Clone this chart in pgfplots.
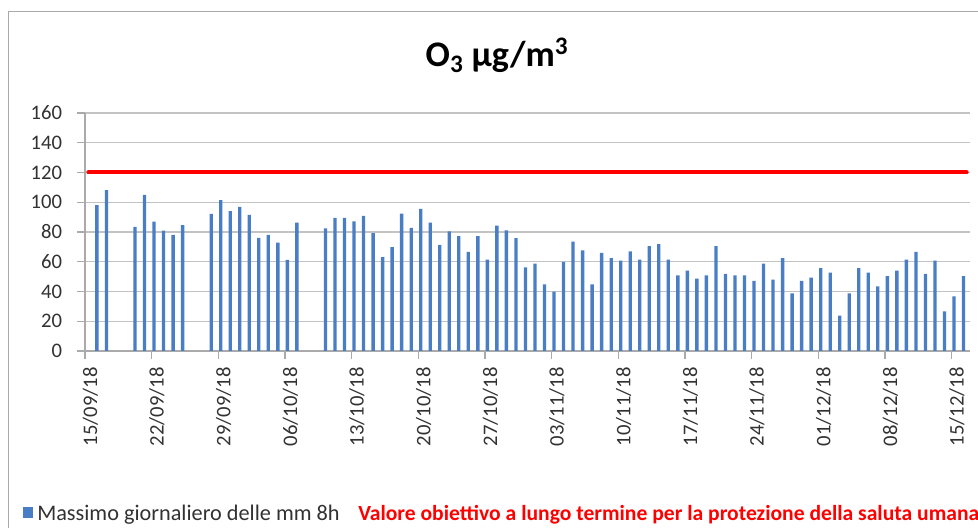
\documentclass[border=0pt]{standalone}
\usepackage{fontspec}
\setmainfont{Carlito}
\usepackage{pgfplots}
\pgfplotsset{compat=1.18}
\definecolor{barblue}{RGB}{74,126,196}
\definecolor{gridgray}{RGB}{195,195,195}
\definecolor{axisgray}{RGB}{170,170,170}
\definecolor{txt}{RGB}{50,50,50}

% O3 daily max of 8h moving mean, day index 0 = 15/09/18
\pgfplotstableread{
day val
1 98.0
2 108.2
5 83.4
6 105.0
7 87.0
8 80.9
9 78.0
10 84.7
13 92.2
14 101.4
15 94.0
16 96.9
17 91.5
18 76.0
19 78.0
20 72.8
21 61.3
22 86.3
25 82.5
26 89.5
27 89.5
28 87.2
29 90.8
30 79.3
31 63.1
32 69.9
33 92.4
34 82.7
35 95.5
36 86.3
37 71.4
38 80.5
39 77.3
40 66.7
41 77.3
42 61.5
43 84.3
44 81.1
45 75.9
46 56.3
47 58.8
48 44.8
49 39.9
50 59.9
51 73.5
52 67.6
53 44.8
54 66.0
55 62.4
56 60.8
57 66.9
58 61.5
59 70.5
60 71.9
61 61.5
62 50.9
63 54.1
64 48.7
65 50.9
66 70.5
67 51.8
68 50.9
69 50.9
70 47.1
71 58.8
72 48.0
73 62.4
74 38.8
75 47.1
76 49.4
77 55.7
78 52.7
79 23.7
80 38.8
81 55.7
82 52.7
83 43.5
84 50.3
85 54.1
86 61.5
87 66.7
88 51.8
89 60.8
90 26.6
91 36.7
92 50.3
}\ozone

\begin{document}
\begin{tikzpicture}[x=0.75pt,y=0.75pt]
\useasboundingbox (0,0) rectangle (978,528);
\clip (0,0) rectangle (978,528);
% chart frame
\draw[axisgray, line width=1.1pt] (8.7,-5) -- (8.7,516.3) -- (990,516.3);
\node[anchor=base, inner sep=0pt, font=\fontsize{27}{27}\selectfont\bfseries, text=black]
  at (497,461) {O\textsubscript{3} µg/m\textsuperscript{3}};

\begin{axis}[
  at={(63.75pt,132.75pt)}, anchor=south west,
  scale only axis, width=663.75pt, height=178.5pt,
  xmin=-0.25, xmax=92.68, ymin=0, ymax=160,
  ytick={0,20,...,160},
  xtick={-0.25,6.75,...,90.75},
  xticklabels={15/09/18,22/09/18,29/09/18,06/10/18,13/10/18,20/10/18,27/10/18,
    03/11/18,10/11/18,17/11/18,24/11/18,01/12/18,08/12/18,15/12/18},
  axis lines*=left,
  axis line style={axisgray, line width=0.8pt},
  ymajorgrids, grid style={gridgray, line width=1pt},
  tick align=outside, major tick length=6pt,
  tick style={axisgray, line width=0.8pt},
  tick label style={font=\fontsize{15.5}{15.5}\selectfont, text=txt},
  /pgf/number format/assume math mode=true,
  yticklabel style={anchor=east, inner sep=0pt, xshift=-11pt},
  xticklabel style={xshift=4pt, yshift=-6pt, rotate=90, anchor=east, inner sep=0pt},
  clip=false,
]
\addplot[ybar, bar width=0.35, fill=barblue, draw=none] table[x=day, y=val] {\ozone};
\addplot[red, line width=3pt, line cap=round] coordinates {(0.1,120) (92.33,120)};
\end{axis}

% legend
\fill[barblue] (23,10) rectangle (33,21);
\node[anchor=base west, inner sep=0pt, font=\fontsize{16.7}{16.7}\selectfont, text=txt]
  at (37,7.5) {Massimo giornaliero delle mm 8h};
\node[anchor=base west, inner sep=0pt, font=\fontsize{16.2}{16.2}\selectfont\bfseries, text=red]
  at (358,7.5) {Valore obiettivo a lungo termine per la protezione della saluta umana};
\end{tikzpicture}
\end{document}
